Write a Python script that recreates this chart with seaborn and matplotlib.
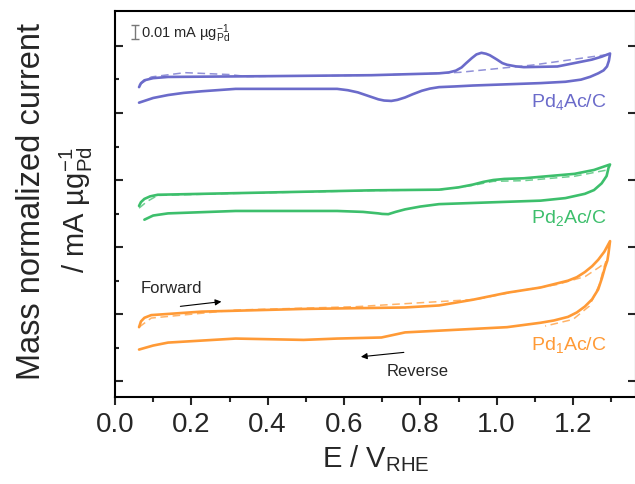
import numpy as np
import pandas as pd
import matplotlib
matplotlib.use("Agg")
import matplotlib.pyplot as plt
import seaborn as sns

# ── Data (E in V vs RHE, current in mA/ug_Pd incl. vertical offset) ──
pd4_fwd_E = [0.063, 0.068, 0.077, 0.100, 0.139, 0.405, 0.672, 0.849, 0.875, 0.893,
             0.908, 0.920, 0.935, 0.947, 0.960, 0.972, 0.982, 1.000, 1.015, 1.027,
             1.050, 1.071, 1.159, 1.249, 1.275, 1.297]
pd4_fwd_I = [0.2193, 0.2222, 0.2244, 0.2260, 0.2269, 0.2275, 0.2282, 0.2296, 0.2303, 0.2316,
             0.2340, 0.2372, 0.2410, 0.2437, 0.2449, 0.2442, 0.2431, 0.2400, 0.2372, 0.2360,
             0.2348, 0.2342, 0.2347, 0.2398, 0.2420, 0.2444]
pd4_rev_E = [1.296, 1.294, 1.289, 1.280, 1.266, 1.245, 1.221, 1.180, 1.115, 0.938,
             0.890, 0.849, 0.825, 0.804, 0.780, 0.760, 0.740, 0.724, 0.705, 0.690,
             0.665, 0.636, 0.610, 0.582, 0.316, 0.227, 0.180, 0.139, 0.100, 0.063]
pd4_rev_I = [0.2424, 0.2390, 0.2347, 0.2318, 0.2296, 0.2270, 0.2249, 0.2233, 0.2223, 0.2205,
             0.2198, 0.2193, 0.2182, 0.2166, 0.2140, 0.2116, 0.2098, 0.2090, 0.2093, 0.2102,
             0.2126, 0.2154, 0.2170, 0.2180, 0.2180, 0.2162, 0.2150, 0.2134, 0.2112, 0.2077]
pd4_dash_E = [0.063, 0.095, 0.183, 0.299, 0.347, 0.672, 0.849, 0.902, 1.095, 1.293]
pd4_dash_I = [0.2209, 0.2269, 0.2301, 0.2287, 0.2272, 0.2282, 0.2296, 0.2303, 0.2358, 0.2437]

pd2_fwd_E = [0.063, 0.068, 0.077, 0.092, 0.112, 0.316, 0.672, 0.849, 0.900, 0.938,
             0.965, 0.991, 1.020, 1.071, 1.204, 1.255, 1.297]
pd2_fwd_I = [0.1307, 0.1335, 0.1359, 0.1378, 0.1390, 0.1402, 0.1423, 0.1428, 0.1445, 0.1466,
             0.1486, 0.1500, 0.1508, 0.1513, 0.1546, 0.1575, 0.1616]
pd2_rev_E = [1.293, 1.288, 1.275, 1.255, 1.231, 1.180, 1.115, 0.849, 0.800, 0.760,
             0.735, 0.716, 0.700, 0.690, 0.650, 0.582, 0.316, 0.139, 0.100, 0.077]
pd2_rev_I = [0.1590, 0.1530, 0.1475, 0.1425, 0.1397, 0.1365, 0.1346, 0.1320, 0.1302, 0.1281,
             0.1262, 0.1245, 0.1247, 0.1251, 0.1262, 0.1269, 0.1269, 0.1251, 0.1235, 0.1204]
pd2_dash_E = [0.063, 0.084, 0.112, 0.316, 0.672, 0.849, 0.938, 0.991, 1.071, 1.204, 1.290]
pd2_dash_I = [0.1290, 0.1340, 0.1385, 0.1400, 0.1421, 0.1426, 0.1460, 0.1490, 0.1495, 0.1528, 0.1575]

pd1_fwd_E = [0.063, 0.068, 0.077, 0.095, 0.227, 0.494, 0.760, 0.849, 0.938, 1.027,
             1.115, 1.187, 1.210, 1.231, 1.250, 1.266, 1.282, 1.297]
pd1_fwd_I = [0.0402, 0.0445, 0.0472, 0.0492, 0.0518, 0.0538, 0.0549, 0.0564, 0.0607, 0.0659,
             0.0698, 0.0749, 0.0775, 0.0813, 0.0857, 0.0905, 0.0965, 0.1044]
pd1_rev_E = [1.293, 1.290, 1.284, 1.276, 1.266, 1.250, 1.231, 1.210, 1.187, 1.150,
             1.115, 1.027, 0.849, 0.760, 0.698, 0.582, 0.494, 0.316, 0.139, 0.100, 0.063]
pd1_rev_I = [0.0954, 0.0900, 0.0851, 0.0770, 0.0684, 0.0610, 0.0556, 0.0512, 0.0479, 0.0452,
             0.0435, 0.0402, 0.0376, 0.0363, 0.0325, 0.0317, 0.0307, 0.0317, 0.0287, 0.0265,
             0.0235]
pd1_dash_E = [0.063, 0.095, 0.316, 0.632, 0.948, 1.053, 1.158, 1.232, 1.269, 1.287,
              1.284, 1.269, 1.243, 1.200, 1.127]
pd1_dash_I = [0.0402, 0.0470, 0.0530, 0.0555, 0.0610, 0.0670, 0.0720, 0.0780, 0.0850, 0.0890,
              0.0878, 0.0720, 0.0560, 0.0460, 0.0410]

samples = ["Pd$_4$Ac/C", "Pd$_2$Ac/C", "Pd$_1$Ac/C"]
colors = ["#6b6bca", "#3dbf6c", "#ff9a36"]
label_y = [0.2090, 0.1224, 0.0276]

sns.set_style("ticks")
plt.rcParams["font.family"] = ["Liberation Sans", "DejaVu Sans"]
plt.rcParams["mathtext.default"] = "regular"

fig = plt.figure(figsize=(6.35, 4.85), dpi=100)
ax = fig.add_axes([115 / 635, 87 / 485, 521 / 635, 386 / 485])

loops = [
    (pd4_fwd_E + pd4_rev_E, pd4_fwd_I + pd4_rev_I, pd4_dash_E, pd4_dash_I),
    (pd2_fwd_E + pd2_rev_E, pd2_fwd_I + pd2_rev_I, pd2_dash_E, pd2_dash_I),
    (pd1_fwd_E + pd1_rev_E, pd1_fwd_I + pd1_rev_I, pd1_dash_E, pd1_dash_I),
]

for (E, I, dE, dI), c, name, ly in zip(loops, colors, samples, label_y):
    df = pd.DataFrame({"E": E, "I": I})
    dd = pd.DataFrame({"E": dE, "I": dI})
    sns.lineplot(data=dd, x="E", y="I", sort=False, estimator=None, ax=ax,
                 color=c, lw=1.1, ls=(0, (5, 3)), alpha=0.75)
    sns.lineplot(data=df, x="E", y="I", sort=False, estimator=None, ax=ax,
                 color=c, lw=1.9, solid_joinstyle="round")
    ax.text(1.289, ly, name, color=c, fontsize=14, ha="right", va="center")

# scale bar
ax.errorbar([0.0537], [0.2604], yerr=[0.0055], fmt="none", ecolor="#777777",
            elinewidth=1.0, capsize=3, capthick=1.0)
ax.text(0.068, 0.2567, "0.01 mA µg$^{-1}_{Pd}$", fontsize=10.5, va="baseline")

# scan direction arrows
ax.text(0.149, 0.0701, "Forward", fontsize=12, ha="center", va="center")
ax.annotate("", xy=(0.286, 0.0595), xytext=(0.164, 0.0555),
            arrowprops=dict(arrowstyle="-|>", color="black", lw=0.8, mutation_scale=9))
ax.text(0.793, 0.0082, "Reverse", fontsize=12, ha="center", va="center")
ax.annotate("", xy=(0.637, 0.0179), xytext=(0.764, 0.0216),
            arrowprops=dict(arrowstyle="-|>", color="black", lw=0.8, mutation_scale=9))

ax.set_xlim(0, 1.365)
ax.set_ylim(-0.0119, 0.2761)
ax.set_xticks(np.arange(0, 1.21, 0.2))
ax.set_xticks(np.arange(0.1, 1.35, 0.2), minor=True)
ax.set_yticks(np.arange(0, 0.26, 0.05))
ax.set_yticks(np.arange(0.025, 0.26, 0.05), minor=True)
ax.set_xticklabels([f"{v:.1f}" for v in np.arange(0, 1.21, 0.2)])
ax.tick_params(axis="x", which="major", direction="out", length=6, width=1.5,
               labelsize=20, pad=4)
ax.tick_params(axis="x", which="minor", direction="out", length=3.5, width=1.5)
ax.tick_params(axis="y", which="major", direction="in", length=6, width=1.5,
               left=True, right=True, labelleft=False)
ax.tick_params(axis="y", which="minor", direction="in", length=3, width=1.5,
               left=True, right=False)
for s in ax.spines.values():
    s.set_linewidth(1.5)
    s.set_color("black")

ax.set_xlabel("E / V$_{RHE}$", fontsize=21, labelpad=4)
ax.set_ylabel("")
fig.text(32 / 635, 1 - 202 / 485, "Mass normalized current", rotation=90,
         fontsize=23.5, ha="center", va="center")
fig.text(76 / 635, 1 - 210 / 485, "/ mA µg$^{-1}_{Pd}$", rotation=90,
         fontsize=21, ha="center", va="center")

fig.savefig("out.png", dpi=100)
